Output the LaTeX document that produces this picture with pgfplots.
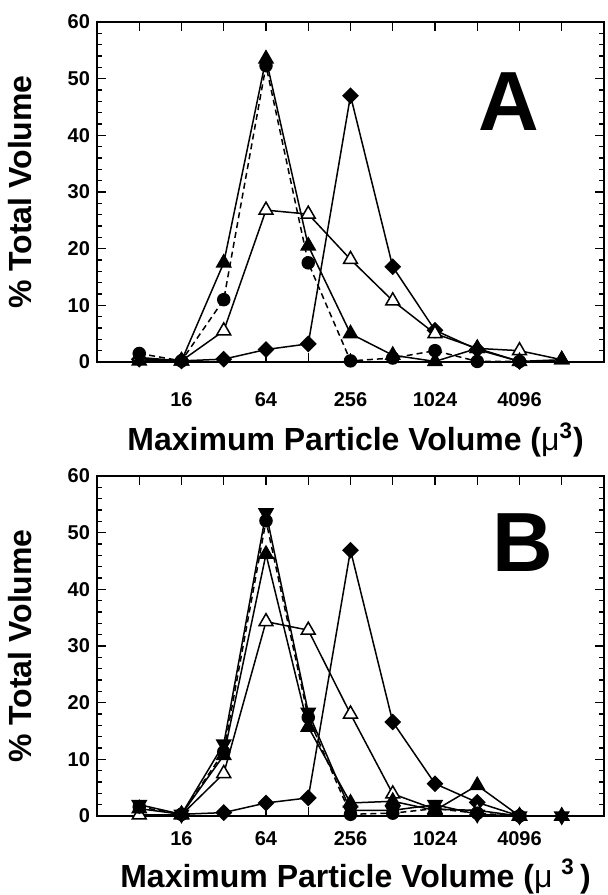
\documentclass[border=0pt]{standalone}
\usepackage{fontspec}
\setmainfont{Liberation Sans}
\usepackage{pgfplots}
\pgfplotsset{compat=1.18}

\pgfplotsset{
  every axis/.append style={
    scale only axis, width=253.5pt, height=170pt,
    xmode=log, log basis x=2, xmin=4, xmax=16384,
    ymin=0, ymax=60,
    xtick={8,16,32,64,128,256,512,1024,2048,4096,8192},
    xticklabels={,16,,64,,256,,1024,,4096,},
    ytick={0,10,20,30,40,50,60}, minor y tick num=4,
    tick align=inside, major tick length=4.5pt, minor tick length=2.5pt,
    axis line style={line width=1pt},
    tick style={black, line width=0.6pt},
    tick label style={font=\fontsize{10}{10}\selectfont\bfseries},
    /pgf/number format/assume math mode=true,
    ylabel={\% Total Volume},
    clip=false,
  },
  every axis y label/.style={at={(axis description cs:-0.152,0.5)}, rotate=90, anchor=center,
    font=\fontsize{16}{16}\selectfont\bfseries},
  every axis plot/.append style={black, line width=0.75pt},
}
\tikzset{
  filltri/.style={mark=triangle*, mark size=4pt, mark options={solid, fill=black}},
  opentri/.style={mark=triangle*, mark size=4pt, mark options={solid, fill=white, draw=black}},
  downtri/.style={mark=triangle*, mark size=4pt, mark options={solid, fill=black, rotate=180}},
  dotmark/.style={densely dashed, mark=*, mark size=3pt, mark options={solid, fill=black}},
  diam/.style={mark=square*, mark size=2.6pt, mark options={solid, fill=black, rotate=45}},
}

\begin{document}
\begin{tikzpicture}
\path[use as bounding box] (-48.5pt,-39.5pt) rectangle (255pt,408pt);

% panel A
\begin{axis}[at={(0pt,227pt)}, anchor=south west,
  xticklabel shift=11.9pt,
  xlabel={Maximum Particle Volume ({\mdseries μ}\textsuperscript{3})},
  every axis x label/.style={at={(axis description cs:0.51,-0.229)}, anchor=center,
    font=\fontsize{16}{16}\selectfont\bfseries}]
% diamonds
\addplot[diam] coordinates {(8,0.5)(16,0.2)(32,0.5)(64,2.2)(128,3.2)(256,47.0)(512,16.8)(1024,5.6)(2048,2.2)(4096,0.1)};
% open triangles
\addplot[opentri] coordinates {(8,0.8)(16,0.2)(32,5.5)(64,26.8)(128,26.1)(256,18.1)(512,10.8)(1024,5.0)(2048,2.4)(4096,2.0)(8192,0.4)};
% filled circles, dashed
\addplot[dotmark] coordinates {(8,1.5)(16,0.2)(32,11.0)(64,52.3)(128,17.5)(256,0.2)(512,0.7)(1024,2.0)(2048,0.1)(4096,0.1)};
% filled triangles
\addplot[filltri] coordinates {(8,0.2)(16,0.2)(32,17.5)(64,53.5)(128,20.5)(256,5.0)(512,1.2)(1024,0.1)(2048,2.4)(4096,0.1)(8192,0.4)};
\node[font=\fontsize{42}{42}\selectfont\bfseries] at (axis cs:3450,46) {A};
\end{axis}

% panel B
\begin{axis}[at={(0pt,0pt)}, anchor=south west,
  xticklabel shift=4.4pt,
  xlabel={Maximum Particle Volume ({\mdseries μ} \textsuperscript{3}\,)},
  every axis x label/.style={at={(axis description cs:0.51,-0.178)}, anchor=center,
    font=\fontsize{16}{16}\selectfont\bfseries}]
% diamonds
\addplot[diam] coordinates {(16,0.3)(32,0.6)(64,2.3)(128,3.2)(256,46.9)(512,16.6)(1024,5.7)(2048,2.4)(4096,0)};
% open triangles
\addplot[opentri] coordinates {(8,0.2)(16,0.2)(32,7.5)(64,34.3)(128,32.8)(256,18.0)(512,3.9)(1024,1.2)(2048,1.0)(4096,0)};
% filled triangles
\addplot[filltri] coordinates {(8,1.3)(16,0.3)(32,10.7)(64,46.2)(128,15.7)(256,2.3)(512,2.6)(1024,1.0)(2048,5.4)(4096,0)(8192,0)};
% filled circles, dashed
\addplot[dotmark] coordinates {(8,1.6)(16,0.3)(32,11.3)(64,52.1)(128,17.4)(256,0.3)(512,0.5)(1024,1.3)(2048,0.5)(4096,0)};
% inverted filled triangles
\addplot[downtri] coordinates {(8,2.0)(16,0.3)(32,12.7)(64,53.5)(128,18.3)(256,1.0)(512,1.0)(1024,2.0)(2048,0.3)(4096,0)(8192,0)};
\node[font=\fontsize{42}{42}\selectfont\bfseries] at (axis cs:4300,48.2) {B};
\end{axis}
\end{tikzpicture}
\end{document}
